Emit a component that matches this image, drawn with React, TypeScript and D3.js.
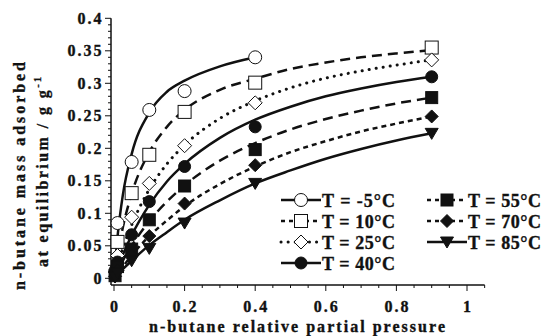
import React from "react";
import * as d3 from "d3";

// relative partial pressure of the measured points
const pObsM5 = [0.01, 0.05, 0.1, 0.2, 0.4];
const pObsMid = [0.01, 0.05, 0.1, 0.2, 0.4, 0.9];
const pObsLow = [0.003, 0.01, 0.05, 0.1, 0.2, 0.4, 0.9];

// adsorbed mass, g/g
const qObsM5 = [0.085, 0.179, 0.259, 0.288, 0.34];
const qObs10 = [0.056, 0.131, 0.19, 0.256, 0.301, 0.355];
const qObs25 = [0.035, 0.094, 0.146, 0.204, 0.27, 0.336];
const qObs40 = [0.012, 0.025, 0.067, 0.118, 0.172, 0.233, 0.31];
const qObs55 = [0.004, 0.018, 0.045, 0.09, 0.142, 0.198, 0.278];
const qObs70 = [0.003, 0.012, 0.035, 0.065, 0.115, 0.174, 0.249];
const qObs85 = [0.002, 0.008, 0.027, 0.046, 0.085, 0.146, 0.223];

// fitted curves, read at these pressures
const pFit = [0, 0.01, 0.025, 0.05, 0.1, 0.15, 0.2, 0.3, 0.4, 0.5, 0.6, 0.7, 0.8, 0.9];
const qFitM5 = [0, 0.064, 0.128, 0.191, 0.255, 0.287, 0.304, 0.326, 0.34];
const qFit10 = [0, 0.035, 0.078, 0.13, 0.194, 0.233, 0.259, 0.29, 0.307, 0.322, 0.332, 0.34, 0.346, 0.351];
const qFit25 = [0, 0.02, 0.046, 0.082, 0.137, 0.176, 0.205, 0.246, 0.273, 0.293, 0.308, 0.319, 0.328, 0.336];
const qFit40 = [0, 0.015, 0.036, 0.066, 0.113, 0.149, 0.176, 0.216, 0.244, 0.264, 0.28, 0.292, 0.302, 0.31];
const qFit55 = [0, 0.011, 0.027, 0.05, 0.088, 0.118, 0.143, 0.181, 0.208, 0.229, 0.245, 0.258, 0.269, 0.278];
const qFit70 = [0, 0.008, 0.018, 0.035, 0.065, 0.089, 0.111, 0.145, 0.172, 0.194, 0.211, 0.226, 0.238, 0.249];
const qFit85 = [0, 0.006, 0.014, 0.027, 0.051, 0.071, 0.09, 0.12, 0.146, 0.166, 0.184, 0.199, 0.212, 0.223];

const legendLabels = ["T = -5°C", "T = 10°C", "T = 25°C", "T = 40°C", "T = 55°C", "T = 70°C", "T = 85°C"];
const xTicks = [0, 0.2, 0.4, 0.6, 0.8, 1];
const yTicks = [0, 0.05, 0.1, 0.15, 0.2, 0.25, 0.3, 0.35, 0.4];

// look of each series
const styles = [
  { shape: "circle", filled: false, dash: "" },
  { shape: "square", filled: false, dash: "10 6" },
  { shape: "diamond", filled: false, dash: "0.1 7" },
  { shape: "circle", filled: true, dash: "" },
  { shape: "square", filled: true, dash: "10 6" },
  { shape: "diamond", filled: true, dash: "5 4" },
  { shape: "triangle", filled: true, dash: "" },
];

const series = [
  { p: pObsM5, q: qObsM5, fit: qFitM5 },
  { p: pObsMid, q: qObs10, fit: qFit10 },
  { p: pObsMid, q: qObs25, fit: qFit25 },
  { p: pObsLow, q: qObs40, fit: qFit40 },
  { p: pObsLow, q: qObs55, fit: qFit55 },
  { p: pObsLow, q: qObs70, fit: qFit70 },
  { p: pObsLow, q: qObs85, fit: qFit85 },
];

const ink = "#111";
const font = "'Liberation Serif', 'Times New Roman', serif";

function Marker({ shape, filled, cx, cy }: { shape: string; filled: boolean; cx: number; cy: number }) {
  const fill = filled ? ink : "#fff";
  const common = { fill, stroke: ink, strokeWidth: 1 };
  if (shape === "circle") {
    const r = filled ? 6 : 6.5;
    return <circle cx={cx} cy={cy} r={r} {...common} />;
  }
  if (shape === "square") {
    const s = filled ? 12 : 13;
    return <rect x={cx - s / 2} y={cy - s / 2} width={s} height={s} {...common} />;
  }
  if (shape === "diamond") {
    const h = filled ? 6.5 : 7;
    return <path d={`M${cx},${cy - h}L${cx + h},${cy}L${cx},${cy + h}L${cx - h},${cy}Z`} {...common} />;
  }
  // triangle pointing down
  return <path d={`M${cx - 6.5},${cy - 5}L${cx + 6.5},${cy - 5}L${cx},${cy + 6}Z`} {...common} />;
}

export default function App() {
  const x = d3.scaleLinear().domain([0, 1]).range([114, 467]);
  const y = d3.scaleLinear().domain([0, 0.4]).range([278.3, 18.3]);

  const line = d3
    .line<[number, number]>()
    .x((d) => x(d[0]))
    .y((d) => y(d[1]))
    .curve(d3.curveMonotoneX);

  const axisY = 285;
  const axisX = 111;
  const xMinor = d3.range(0, 1.051, 0.05);
  const yMinor = d3.range(0, 0.401, 0.01);

  const legendRows = [200, 221, 242, 263];
  const textInk = { fill: ink, stroke: ink, strokeWidth: 0.35 };

  return (
    <svg
      width={544}
      height={336}
      style={{ position: "fixed", left: 0, top: 0, background: "#fff" }}
      fontFamily={font}
      fontWeight="bold"
    >
      <rect width={544} height={336} fill="#fff" />

      {/* axes */}
      <line x1={axisX} x2={axisX} y1={y(0.4)} y2={axisY} stroke={ink} strokeWidth={1.5} />
      <line x1={axisX} x2={x(1.05)} y1={axisY} y2={axisY} stroke={ink} strokeWidth={1.5} />
      {yMinor.map((v, i) => (
        <line key={"ym" + i} x1={axisX - (i % 5 === 0 ? 6 : 3)} x2={axisX} y1={y(v)} y2={y(v)} stroke={ink} strokeWidth={1} />
      ))}
      {xMinor.map((v, i) => (
        <line key={"xm" + i} x1={x(v)} x2={x(v)} y1={axisY} y2={axisY + (i % 4 === 0 ? 6 : 3)} stroke={ink} strokeWidth={1} />
      ))}
      {yTicks.map((v) => (
        <text key={"yt" + v} x={103.5} y={y(v) + 5.5} textAnchor="end" fontSize={16} letterSpacing={2} {...textInk}>
          {String(+v.toFixed(2))}
        </text>
      ))}
      {xTicks.map((v) => (
        <text key={"xt" + v} x={x(v) + 1} y={311.5} textAnchor="middle" fontSize={16} letterSpacing={2} {...textInk}>
          {String(v)}
        </text>
      ))}
      <text x={297} y={332} textAnchor="middle" fontSize={16} textLength={296} lengthAdjust="spacing" {...textInk}>
        n-butane relative partial pressure
      </text>
      <text transform="translate(25,176) rotate(-90)" textAnchor="middle" fontSize={16} textLength={228} lengthAdjust="spacing" {...textInk}>
        n-butane mass adsorbed
      </text>
      <text transform="translate(48,172) rotate(-90)" textAnchor="middle" fontSize={16} textLength={190} lengthAdjust="spacing" {...textInk}>
        at equilibrium / g g
        <tspan fontSize={10} dy={-7}>-1</tspan>
      </text>

      {/* fitted curves */}
      {series.map((s, i) => (
        <path
          key={"fit" + i}
          d={line(s.fit.map((q, j) => [pFit[j], q] as [number, number])) || ""}
          fill="none"
          stroke={ink}
          strokeWidth={styles[i].dash === "0.1 7" ? 3 : 2.5}
          strokeDasharray={styles[i].dash || undefined}
          strokeLinecap={styles[i].dash === "0.1 7" ? "round" : "butt"}
        />
      ))}

      {/* measured points */}
      {series.map((s, i) =>
        s.p.map((p, j) => (
          <Marker key={"m" + i + "-" + j} shape={styles[i].shape} filled={styles[i].filled} cx={x(p)} cy={y(s.q[j])} />
        ))
      )}

      {/* legend */}
      {legendLabels.map((label, i) => {
        const col = i < 4 ? 0 : 1;
        const row = i < 4 ? i : i - 4;
        const x0 = col === 0 ? 281 : 427;
        const cy = legendRows[row];
        const st = styles[i];
        return (
          <g key={"lg" + i}>
            <line
              x1={x0}
              x2={x0 + 40}
              y1={cy}
              y2={cy}
              stroke={ink}
              strokeWidth={st.dash === "0.1 7" ? 3 : 2.5}
              strokeDasharray={st.dash === "" ? undefined : st.dash === "0.1 7" ? "0.1 7" : "4 4"}
              strokeLinecap={st.dash === "0.1 7" ? "round" : "butt"}
            />
            <Marker shape={st.shape} filled={st.filled} cx={x0 + 20} cy={cy} />
            <text x={x0 + 41} y={cy + 7} fontSize={18} textLength={73} lengthAdjust="spacing" {...textInk}>
              {label}
            </text>
          </g>
        );
      })}
    </svg>
  );
}
